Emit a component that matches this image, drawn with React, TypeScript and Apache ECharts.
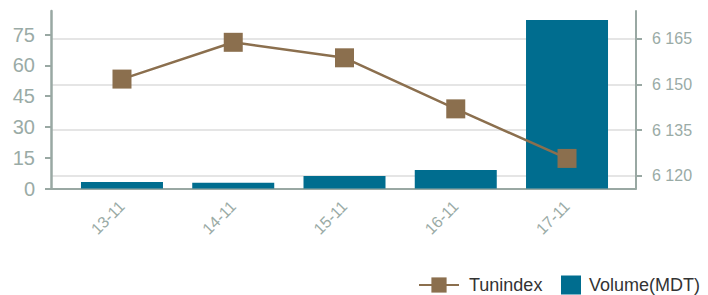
import React, { useEffect, useRef } from "react";
import * as echarts from "echarts";

const categories = ["13-11", "14-11", "15-11", "16-11", "17-11"];
const volumeValues = [3.2, 2.8, 6.1, 9.0, 82.1];
const tunindexValues = [6151.8, 6163.9, 6158.8, 6142.0, 6125.7];
const leftTicks = [0, 15, 30, 45, 60, 75];
const rightTicks = [6120, 6135, 6150, 6165];

const AXIS = "#99a8a3";
const LABEL = "#9aaba6";
const FONT = "'Liberation Sans', Arial, sans-serif";

export default function App() {
  const ref = useRef<HTMLDivElement>(null);
  useEffect(() => {
    if (!ref.current) return;
    const chart = echarts.init(ref.current, undefined, { renderer: "svg" });
    chart.setOption({
      animation: false,
      textStyle: { fontFamily: FONT },
      grid: { left: 51, right: 72, top: 11, bottom: 106.5 },
      legend: [
        {
          data: ["Tunindex"],
          left: 418,
          top: 275,
          padding: 0,
          itemWidth: 40,
          itemHeight: 19,
          textStyle: {
            fontSize: 18,
            lineHeight: 20,
            color: "#333",
            fontFamily: FONT,
            padding: [0, 0, 0, 5],
          },
        },
        {
          data: [{ name: "Volume(MDT)", icon: "rect" }],
          left: 561,
          top: 275,
          padding: 0,
          itemWidth: 20,
          itemHeight: 19,
          textStyle: {
            fontSize: 18,
            lineHeight: 20,
            color: "#333",
            fontFamily: FONT,
            padding: [0, 0, 0, 3],
          },
        },
      ],
      xAxis: {
        type: "value",
        min: -0.638,
        max: 4.62,
        axisLine: { show: true, onZero: false, lineStyle: { color: AXIS, width: 2 } },
        axisTick: { show: false },
        splitLine: { show: false },
        axisLabel: {
          customValues: categories.map((_, i) => i),
          formatter: (v: number) => categories[Math.round(v)] ?? "",
          rotate: 45,
          margin: 15,
          fontSize: 16,
          color: LABEL,
          fontFamily: FONT,
        },
      },
      yAxis: [
        {
          type: "value",
          min: 0,
          max: 86.5,
          position: "left",
          axisLine: { show: true, onZero: false, lineStyle: { color: AXIS, width: 2.5 } },
          axisTick: {
            show: true,
            customValues: leftTicks,
            length: 6,
            lineStyle: { color: AXIS, width: 2 },
          },
          splitLine: { show: false },
          axisLabel: {
            customValues: leftTicks,
            fontSize: 20,
            color: LABEL,
            margin: 16,
            fontFamily: FONT,
          },
        },
        {
          type: "value",
          min: 6115.8,
          max: 6174.2,
          position: "right",
          axisLine: { show: true, onZero: false, lineStyle: { color: AXIS, width: 2 } },
          axisTick: {
            show: true,
            customValues: rightTicks,
            length: 6,
            lineStyle: { color: AXIS, width: 2 },
          },
          splitLine: { show: true, lineStyle: { color: "#dcdcdc", width: 1.5 } },
          axisLabel: {
            customValues: rightTicks,
            fontSize: 16,
            color: LABEL,
            margin: 16,
            fontFamily: FONT,
            formatter: (v: number) =>
              String(Math.round(v)).replace(/\B(?=(\d{3})+(?!\d))/g, " "),
          },
        },
      ],
      series: [
        {
          name: "Volume(MDT)",
          type: "bar",
          yAxisIndex: 0,
          barWidth: 82,
          itemStyle: { color: "#006d8f" },
          data: volumeValues.map((v, i) => [i, v]),
          z: 2,
        },
        {
          name: "Tunindex",
          type: "line",
          yAxisIndex: 1,
          symbol: "rect",
          symbolSize: 19,
          lineStyle: { color: "#8b6f4e", width: 2.5 },
          itemStyle: { color: "#8b6f4e" },
          data: tunindexValues.map((v, i) => [i, v]),
          z: 3,
        },
      ],
    });
    return () => chart.dispose();
  }, []);
  return (
    <div
      ref={ref}
      style={{ position: "absolute", left: 0, top: 0, width: 708, height: 295 }}
    />
  );
}
